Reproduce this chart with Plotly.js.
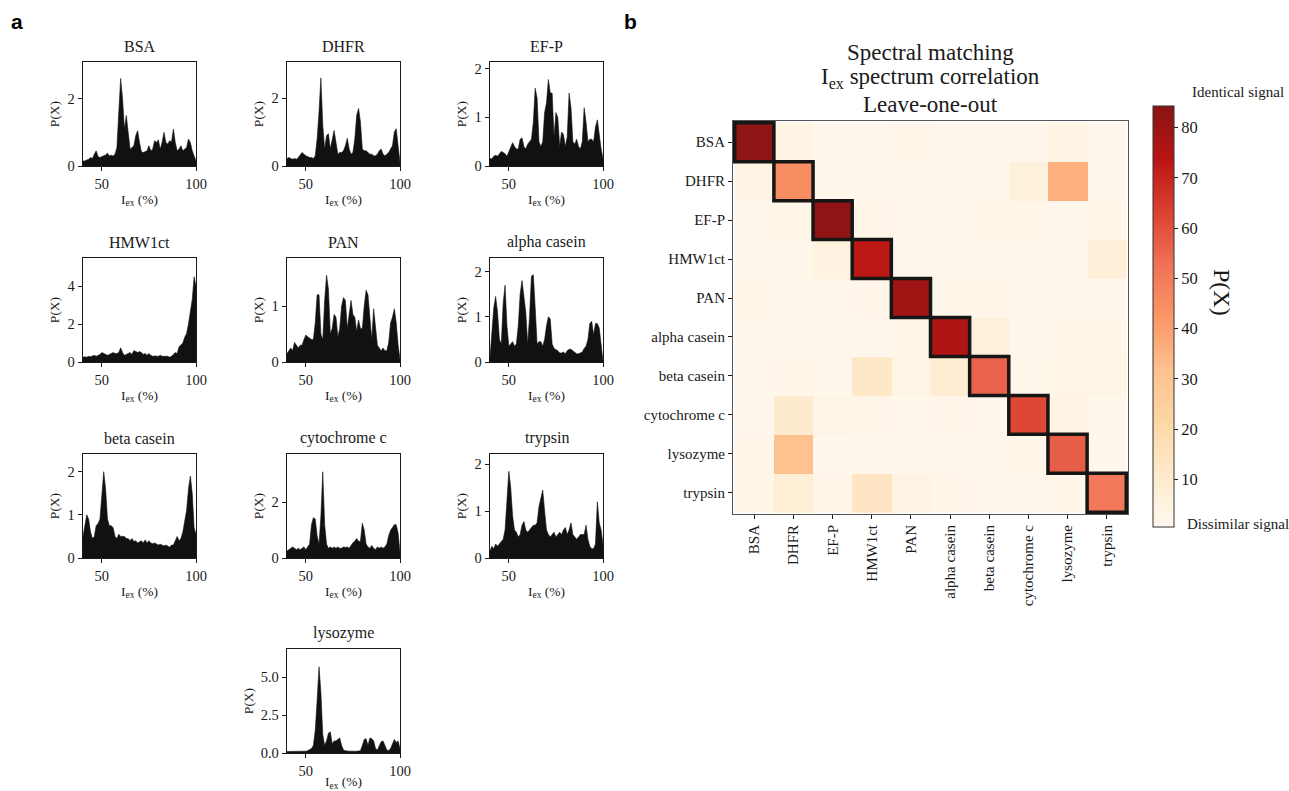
<!DOCTYPE html>
<html><head><meta charset="utf-8">
<script src="https://cdn.plot.ly/plotly-3.0.1.min.js"></script>
<style>html,body{margin:0;padding:0;background:#fff}#chart{width:1289px;height:791px}</style>
</head><body><div id="chart"></div>
<script>
// ---------- DATA ----------
const iex = [40,41,42,43,44,45,46,47,48,49,50,51,52,53,54,55,56,57,58,59,60,61,62,63,64,65,66,67,68,69,70,71,72,73,74,75,76,77,78,79,80,81,82,83,84,85,86,87,88,89,90,91,92,93,94,95,96,97,98,99,100];

const bsa = [0.15,0.15,0.18,0.2,0.25,0.22,0.35,0.45,0.28,0.25,
0.28,0.3,0.33,0.38,0.3,0.32,0.3,0.35,0.55,1.6,
2.6,2.0,1.1,1.5,1.05,0.5,0.55,0.6,0.9,1.05,
0.7,0.42,0.4,0.42,0.45,0.6,0.45,0.5,0.75,0.7,
0.78,0.5,0.7,1.0,0.7,0.65,0.75,0.72,1.1,0.7,
0.45,0.5,0.6,0.45,0.5,0.55,0.8,0.7,0.45,0.3,
0.15];
const dhfr = [0.22,0.25,0.22,0.2,0.22,0.2,0.25,0.32,0.4,0.35,
0.3,0.28,0.25,0.25,0.22,0.3,0.8,1.6,2.6,1.2,
0.5,0.9,0.95,0.5,0.8,1.05,0.7,0.35,0.4,0.4,
0.45,0.6,0.82,0.5,0.35,0.4,0.8,1.5,1.7,1.3,
0.5,0.45,0.45,0.4,0.35,0.35,0.3,0.3,0.35,0.45,
0.5,0.35,0.3,0.35,0.4,0.5,0.6,1.0,1.1,0.6,
0.1];
const efp = [0.15,0.15,0.2,0.22,0.2,0.25,0.3,0.28,0.25,0.2,
0.3,0.4,0.48,0.4,0.35,0.35,0.55,0.58,0.4,0.35,
0.45,0.5,0.55,0.9,1.6,1.4,0.5,0.4,0.5,1.1,
1.3,1.78,1.5,1.5,0.6,1.1,1.0,0.4,0.7,0.65,
0.4,0.6,1.5,1.2,0.5,0.45,0.55,0.4,0.35,0.5,
1.2,0.9,0.5,0.55,0.55,0.5,0.8,0.95,0.6,0.35,
0.15];
const hmw1ct = [0.25,0.28,0.25,0.3,0.28,0.3,0.35,0.3,0.35,0.4,
0.5,0.45,0.4,0.35,0.4,0.45,0.5,0.45,0.45,0.5,
0.75,0.5,0.35,0.4,0.45,0.5,0.4,0.6,0.55,0.5,
0.55,0.5,0.4,0.45,0.35,0.45,0.35,0.3,0.32,0.3,
0.3,0.35,0.3,0.3,0.32,0.3,0.25,0.3,0.4,0.5,
0.45,0.8,0.9,1.0,1.3,1.5,2.0,2.8,3.3,4.5,
4.0];
const pan = [0.15,0.2,0.25,0.2,0.35,0.3,0.25,0.3,0.3,0.4,
0.48,0.45,0.42,0.4,0.4,0.7,1.2,1.2,0.5,0.4,
1.1,1.55,1.3,0.5,0.6,0.85,0.8,0.45,0.6,1.0,
1.15,1.1,0.6,0.9,1.1,0.85,0.8,0.55,0.75,0.6,
0.6,1.0,1.28,1.2,0.7,0.4,0.95,0.6,0.3,0.25,
0.2,0.25,0.2,0.2,0.35,0.7,0.8,0.95,0.7,0.3,
0.05];
const alphaCasein = [0.1,0.6,1.2,1.45,1.1,0.5,0.4,1.3,1.7,0.8,
0.35,0.4,0.45,0.35,0.4,0.8,1.5,1.8,1.5,1.1,
0.4,1.0,1.9,1.93,1.2,0.4,0.45,0.45,0.35,0.5,
0.8,1.0,0.95,0.4,0.3,0.28,0.25,0.2,0.2,0.22,
0.18,0.25,0.28,0.28,0.25,0.2,0.18,0.18,0.2,0.22,
0.3,0.35,0.5,0.85,0.9,0.6,0.85,0.85,0.75,0.3,
0.02];
const betaCasein = [0.5,0.75,1.0,0.9,0.6,0.45,0.5,0.75,0.8,0.9,
1.5,2.0,1.6,0.9,0.75,0.75,0.7,0.5,0.45,0.55,
0.5,0.5,0.5,0.45,0.45,0.4,0.45,0.38,0.4,0.35,
0.38,0.4,0.35,0.42,0.35,0.4,0.35,0.33,0.35,0.32,
0.3,0.32,0.3,0.28,0.3,0.28,0.25,0.3,0.3,0.4,
0.5,0.4,0.45,0.6,0.9,1.1,1.6,1.9,1.5,0.7,
0.55];
const cytochromeC = [0.25,0.3,0.35,0.4,0.35,0.3,0.35,0.3,0.35,0.4,
0.3,0.4,0.5,1.2,1.45,1.4,0.8,0.5,1.5,3.1,
1.2,0.5,0.35,0.4,0.35,0.4,0.35,0.4,0.35,0.35,
0.4,0.38,0.4,0.35,0.45,0.55,0.6,0.7,0.6,0.6,
1.25,1.0,0.5,0.4,0.35,0.45,0.35,0.3,0.4,0.35,
0.4,0.35,0.4,0.5,0.8,1.0,1.1,1.2,1.2,0.9,
0.2];
const trypsin = [0.15,0.25,0.2,0.3,0.25,0.3,0.35,0.4,0.6,1.2,
1.85,1.5,0.9,0.6,0.55,0.45,0.5,0.7,0.78,0.6,
0.55,0.6,0.65,0.7,0.7,0.75,1.1,1.3,1.45,1.0,
0.6,0.5,0.45,0.5,0.55,0.45,0.5,0.55,0.5,0.6,
0.65,0.5,0.6,0.75,0.5,0.45,0.4,0.45,0.5,0.5,
0.5,0.7,0.4,0.25,0.2,0.2,0.3,1.2,0.75,0.6,
0.3];
const lysozyme = [0.1,0.1,0.12,0.12,0.1,0.12,0.12,0.1,0.12,0.12,
0.12,0.15,0.2,0.3,0.5,1.5,3.5,5.7,4.0,1.2,
0.5,0.8,1.3,1.4,0.6,0.8,0.8,0.9,1.0,0.5,
0.2,0.15,0.12,0.12,0.12,0.1,0.12,0.12,0.12,0.15,
0.5,0.9,0.95,0.5,1.0,0.95,0.8,0.3,0.2,0.5,
0.75,0.8,0.5,0.2,0.15,0.3,0.6,0.9,0.7,0.8,
0.3];

const proteins = ['BSA','DHFR','EF-P','HMW1ct','PAN','alpha casein','beta casein','cytochrome c','lysozyme','trypsin'];

// heatmap rows (top to bottom) x columns, same order as proteins
const corrBSA     = [83, 4, 1, 1, 2, 1, 1, 1, 4, 1];
const corrDHFR    = [4, 45, 1.5, 1, 1, 1, 1, 6, 36, 1];
const corrEFP     = [1, 3, 83, 2, 1, 1, 2, 2, 1, 2];
const corrHMW1ct  = [1, 1, 5, 73, 1, 1, 1, 1.5, 1, 7];
const corrPAN     = [3, 1, 1, 2, 79, 2, 2, 1.5, 1.5, 1];
const corrAlpha   = [1.5, 1, 1, 1, 2, 76, 6, 1.5, 2, 2];
const corrBeta    = [1.5, 2, 1, 12, 3, 9, 56, 1, 3, 3];
const corrCyto    = [1.5, 10, 3, 2.5, 1.5, 2, 1, 62, 4, 1.5];
const corrLyso    = [2.5, 31, 1, 1, 1, 1, 1, 2, 57, 1];
const corrTrypsin = [2, 8, 2, 13, 4, 2, 1, 1, 2, 51];

const cbTicks = [10,20,30,40,50,60,70,80];

// ---------- LAYOUT ----------
const W = 1289, H = 791;
const FONT = 'Liberation Serif, Times New Roman, serif';
const INK = '#1a1a1a';
const px = v => v / W;
const py = v => 1 - v / H;

const panels = [
  {name:'BSA', y:bsa, top:3.09, ticks:[0,2], r:0, c:0},
  {name:'DHFR', y:dhfr, top:3.07, ticks:[0,2], r:0, c:1},
  {name:'EF-P', y:efp, top:2.14, ticks:[0,1,2], r:0, c:2},
  {name:'HMW1ct', y:hmw1ct, top:5.49, ticks:[0,2,4], r:1, c:0},
  {name:'PAN', y:pan, top:1.857, ticks:[0,1], r:1, c:1},
  {name:'alpha casein', y:alphaCasein, top:2.3, ticks:[0,1,2], r:1, c:2},
  {name:'beta casein', y:betaCasein, top:2.41, ticks:[0,1,2], r:2, c:0},
  {name:'cytochrome c', y:cytochromeC, top:3.74, ticks:[0,2], r:2, c:1},
  {name:'trypsin', y:trypsin, top:2.22, ticks:[0,1,2], r:2, c:2},
  {name:'lysozyme', y:lysozyme, top:6.88, ticks:[0,2.5,5], tt:['0.0','2.5','5.0'], r:3, c:1}
];
const colX = [83, 287, 490];
const rowY = [62, 258, 454, 649];
const PW = 113, PH = 104;

const traces = [];
const layout = {
  width: W, height: H,
  margin: {l:0, r:0, t:0, b:0},
  paper_bgcolor: '#fff', plot_bgcolor: '#fff',
  font: {family: FONT, color: INK, size: 14},
  showlegend: false,
  annotations: [], shapes: []
};

panels.forEach((p, i) => {
  const k = i + 1;
  const xs = k === 1 ? 'x' : 'x' + k;
  const ys = k === 1 ? 'y' : 'y' + k;
  const x0 = colX[p.c], y0 = rowY[p.r];
  traces.push({
    type: 'scatter', mode: 'lines', x: iex, y: p.y,
    xaxis: xs, yaxis: ys, fill: 'tozeroy',
    fillcolor: '#111111', line: {color: '#111111', width: 0.6},
    hoverinfo: 'skip'
  });
  const common = {
    showline: true, mirror: true, linecolor: INK, linewidth: 1.3,
    ticks: 'outside', ticklen: 4, tickwidth: 1, tickcolor: INK,
    showgrid: false, zeroline: false, tickfont: {family: FONT, size: 14.5, color: INK}
  };
  layout['xaxis' + (k === 1 ? '' : k)] = Object.assign({}, common, {
    domain: [px(x0), px(x0 + PW)], anchor: ys, range: [40, 100],
    tickvals: [50, 100],
    title: {text: 'I<sub>ex</sub> (%)', font: {family: FONT, size: 13.5, color: INK}, standoff: 3}
  });
  layout['yaxis' + (k === 1 ? '' : k)] = Object.assign({}, common, {
    domain: [py(y0 + PH), py(y0)], anchor: xs, range: [0, p.top],
    tickvals: p.ticks, ticktext: p.tt,
    title: {text: 'P(X)', font: {family: FONT, size: 13.5, color: INK}, standoff: 4}
  });
  layout.annotations.push({
    text: p.name, xref: 'paper', yref: 'paper',
    x: px(x0 + PW / 2), y: py(y0 - 5), xanchor: 'center', yanchor: 'bottom',
    showarrow: false, font: {family: FONT, size: 16, color: INK}
  });
});

// heatmap: matplotlib OrRd, slightly washed with white
const orrdBase = [[255,247,236],[254,232,200],[253,212,158],[253,187,132],[252,141,89],[239,101,72],[215,48,31],[179,0,0],[127,0,0]];
const orrd = orrdBase.map((c, i) => [i / (orrdBase.length - 1),
  'rgb(' + c.map(v => Math.round(v * 0.92 + 255 * 0.08)).join(',') + ')']);

const hk = 11;
const zRows = [corrBSA, corrDHFR, corrEFP, corrHMW1ct, corrPAN, corrAlpha, corrBeta, corrCyto, corrLyso, corrTrypsin];
const HX0 = 733, HX1 = 1128, HY0 = 121, HY1 = 514;
traces.push({
  type: 'heatmap', x: proteins, y: proteins, z: zRows,
  xaxis: 'x' + hk, yaxis: 'y' + hk,
  colorscale: orrd, zmin: 0.5, zmax: 84.3,
  hoverinfo: 'skip',
  colorbar: {
    x: px(1152.5), xanchor: 'left', xref: 'paper',
    y: py(316.5), yanchor: 'middle', yref: 'paper',
    len: 421 / H, lenmode: 'fraction', thickness: 21, thicknessmode: 'pixels',
    outlinewidth: 1, outlinecolor: '#333',
    tickvals: cbTicks, ticks: 'outside', ticklen: 4, tickcolor: INK,
    tickfont: {family: FONT, size: 16.5, color: INK}, xpad: 0, ypad: 0
  }
});
const hcommon = {
  showline: true, mirror: true, linecolor: '#555', linewidth: 1,
  ticks: 'outside', ticklen: 4, tickcolor: INK, showgrid: false, zeroline: false,
  tickfont: {family: FONT, size: 15, color: INK}, type: 'category'
};
layout['xaxis' + hk] = Object.assign({}, hcommon, {
  domain: [px(HX0), px(HX1)], anchor: 'y' + hk, tickangle: -90
});
layout['yaxis' + hk] = Object.assign({}, hcommon, {
  domain: [py(HY1), py(HY0)], anchor: 'x' + hk, autorange: 'reversed'
});
proteins.forEach((name, i) => {
  layout.shapes.push({
    type: 'rect', xref: 'x' + hk, yref: 'y' + hk,
    x0: i - 0.5, x1: i + 0.5, y0: i - 0.5, y1: i + 0.5,
    line: {color: '#161616', width: 3.5}
  });
});

const ann = (text, x, y, size, extra) => layout.annotations.push(Object.assign({
  text: text, xref: 'paper', yref: 'paper', x: px(x), y: py(y),
  xanchor: 'center', yanchor: 'middle', showarrow: false,
  font: {family: FONT, size: size, color: INK}
}, extra || {}));

ann('Spectral matching', 930, 52, 23);
ann('I<sub>ex</sub> spectrum correlation', 930, 78, 23);
ann('Leave-one-out', 930, 105, 23);
ann('Identical signal', 1238, 92, 15);
ann('Dissimilar signal', 1238, 524, 15);
ann('P(X)', 1222, 292, 24, {textangle: 90});
ann('<b>a</b>', 17, 22, 21, {font: {family: 'Liberation Sans, Arial, sans-serif', size: 21, color: '#000'}});
ann('<b>b</b>', 630, 22, 21, {font: {family: 'Liberation Sans, Arial, sans-serif', size: 21, color: '#000'}});

Plotly.newPlot('chart', traces, layout, {displayModeBar: false, staticPlot: true});
</script></body></html>
